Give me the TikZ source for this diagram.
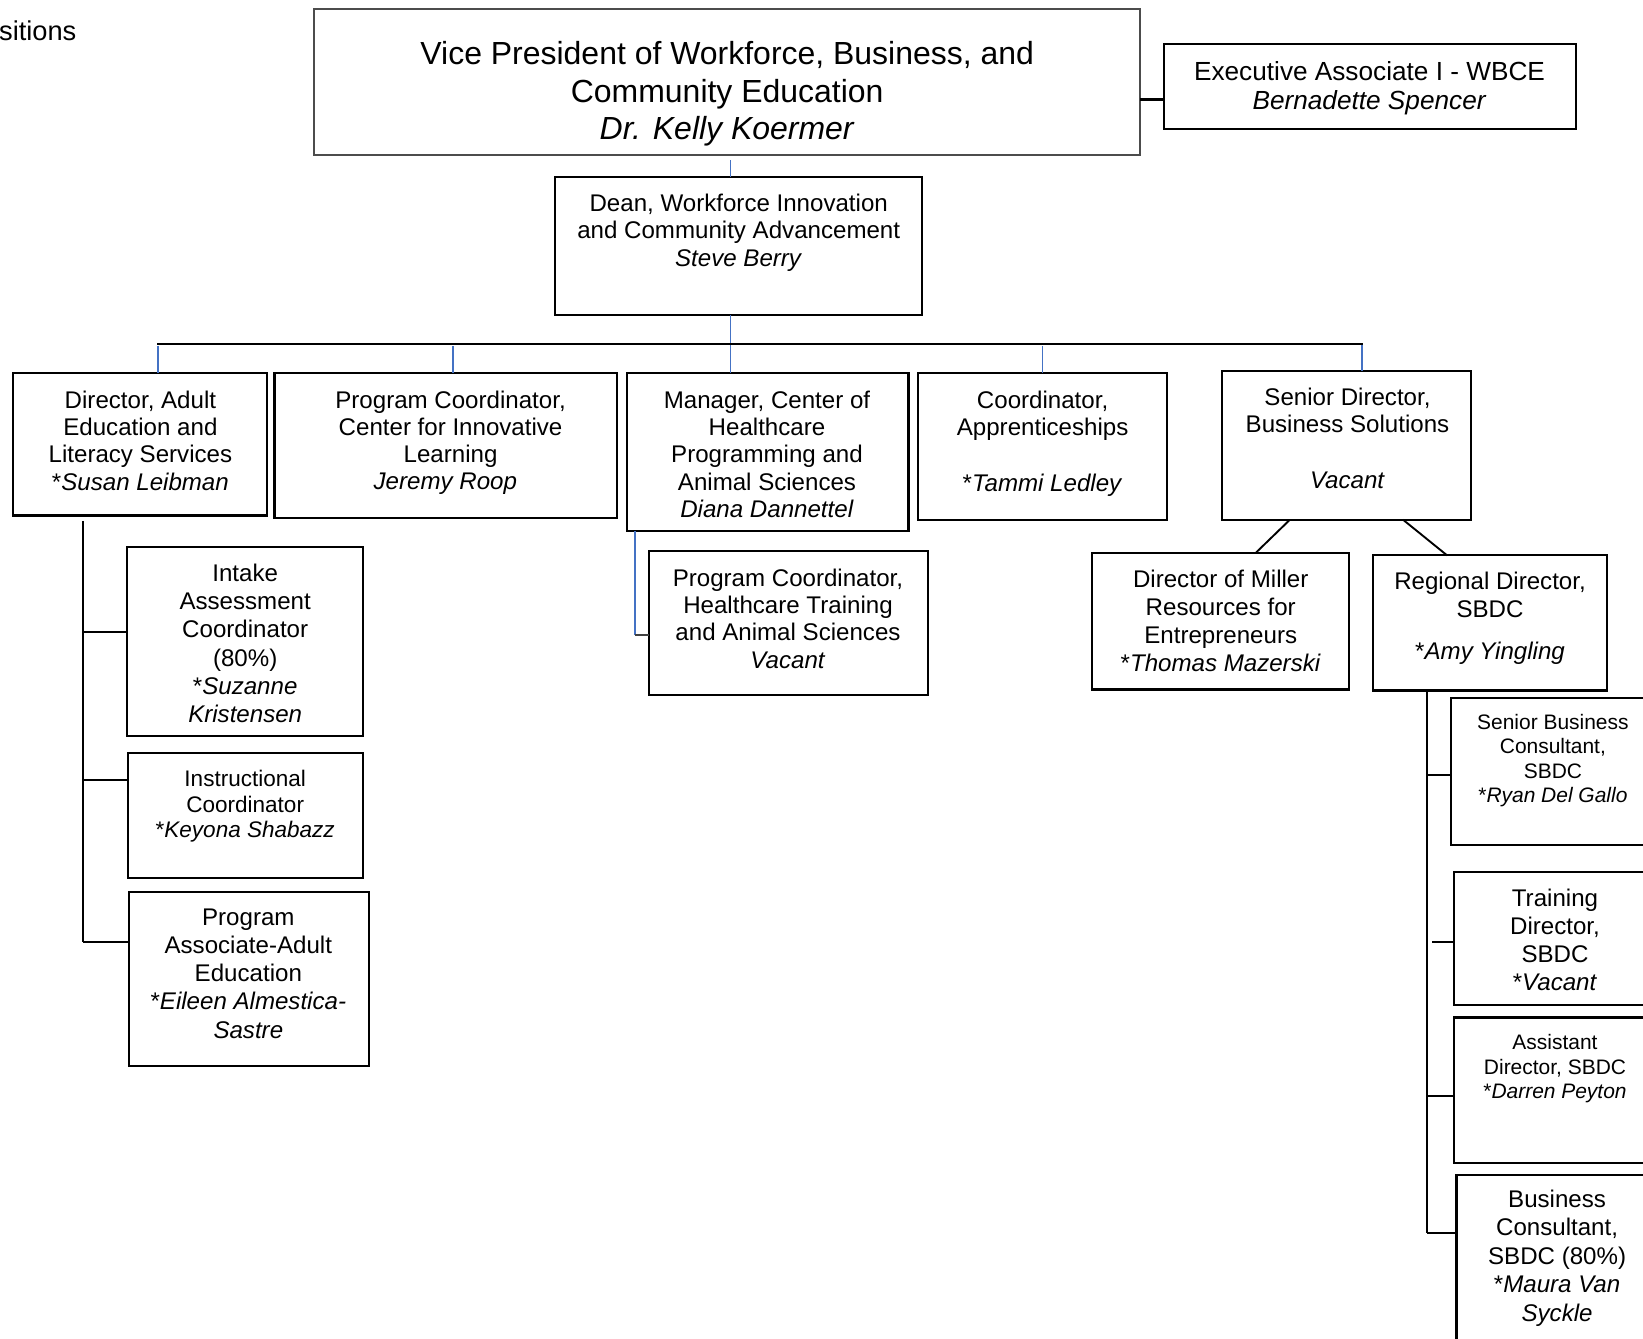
\documentclass[tikz,border=0pt]{standalone}
\usepackage{fontspec}
\setmainfont{Liberation Sans}
\definecolor{linkblue}{RGB}{68,114,196}
\newcommand\fs[2]{\fontsize{#1}{#2}\selectfont}
\newcommand\nm[1]{*\textit{#1}}
\newcommand\bx[6][]{\node[box,#1, minimum width={(#5)-(#3)}, minimum height={(#6)-(#4)}] (#2) at ({((#3)+(#5))/2},{((#4)+(#6))/2}) {};}
\begin{document}
\begin{tikzpicture}[x=1pt,y=-1pt,
  box/.style={draw=black, line width=2pt, inner sep=0pt, outer sep=0pt},
  txt/.style={align=center, inner sep=0pt, font=\fs{23}{26}},
  conn/.style={draw=black, line width=2pt},
  bconn/.style={draw=linkblue, line width=1.6pt}]
\clip (0,0) rectangle (1568,1277);
\fill[white] (0,0) rectangle (1568,1277);

% stray heading text
\node[txt, anchor=west, font=\fs{26}{30}] (pos) at (-1,29) {sitions};

% top level
\bx[draw=black!70]{vp}{300}{9}{1088}{148}
\node[txt, font=\fs{30.5}{35.5}] (vp-t) at (694,89.5) {Vice President of Workforce, Business, and\\Community Education\\\textit{Dr. Kelly Koermer}};
\bx{exec}{1111}{42}{1504}{123}
\node[txt, font=\fs{25}{28}] (exec-t) at (1307,84) {Executive Associate I - WBCE\\\textit{Bernadette Spencer}};
\bx{dean}{530}{169}{880}{301}
\node[txt] (dean-t) at (705,222) {Dean, Workforce Innovation\\and Community Advancement\\\textit{Steve Berry}};

% level 2
\bx{dir}{12}{356}{255}{492}
\node[txt] (dir-t) at (134,420.5) {Director, Adult\\Education and\\Literacy Services\\\nm{Susan Leibman}};
\bx{pcil}{262}{356}{589}{494}
\node[txt] (pcil-t) at (430,422.5) {Program Coordinator,\\Center for Innovative\\Learning\\\hspace*{-10pt}\textit{Jeremy Roop}};
\bx{mgr}{598}{356}{867}{507}
\node[txt] (mgr-t) at (732,433.5) {Manager, Center of\\Healthcare\\Programming and\\Animal Sciences\\\textit{Diana Dannettel}};
\bx{app}{876}{356}{1114}{496}
\node[txt] (app-t) at (995,423.5) {Coordinator,\\Apprenticeships\\[27pt]\nm{Tammi Ledley}};
\bx{sd}{1166}{354}{1404}{496}
\node[txt] (sd-t) at (1286,418.5) {Senior Director,\\Business Solutions\\[27pt]\textit{Vacant}};

% level 3 left
\bx{intake}{121}{522}{346}{702}
\node[txt, font=\fs{23}{26.8}] (intake-t) at (234,614) {Intake\\Assessment\\Coordinator\\(80\%)\\\nm{Suzanne}\\\textit{Kristensen}};
\bx{instr}{122}{719}{346}{838}
\node[txt, font=\fs{21.5}{24.5}] (instr-t) at (234,769.5) {Instructional\\Coordinator\\\nm{Keyona Shabazz}};
\bx{passoc}{123}{851}{352}{1017}
\node[txt, font=\fs{23}{27}] (passoc-t) at (237,929) {Program\\Associate-Adult\\Education\\\nm{Eileen Almestica-}\\\textit{Sastre}};

% healthcare
\bx{hcpc}{619}{526}{886}{663}
\node[txt] (hcpc-t) at (752,590.5) {Program Coordinator,\\Healthcare Training\\and Animal Sciences\\\textit{Vacant}};

% business solutions
\bx{miller}{1042}{528}{1287}{658}
\node[txt, font=\fs{23}{27}] (miller-t) at (1165,592.5) {Director of Miller\\Resources for\\Entrepreneurs\\\nm{Thomas Mazerski}};
\bx{reg}{1310}{530}{1534}{659}
\node[txt] (reg-t) at (1422,590) {Regional Director,\\SBDC\\[14pt]\nm{Amy Yingling}};

% right column
\bx{sbc}{1385}{666}{1600}{806}
\node[txt, font=\fs{20}{23.3}] (sbc-t) at (1482,726) {Senior Business\\Consultant,\\SBDC\\\nm{Ryan Del Gallo}};
\bx{td}{1388}{832}{1600}{959}
\node[txt, font=\fs{23}{26.7}] (td-t) at (1484,897) {Training\\Director,\\SBDC\\\nm{Vacant}};
\bx{ad}{1388}{971}{1600}{1110}
\node[txt, font=\fs{20}{23.5}] (ad-t) at (1484,1020) {Assistant\\Director, SBDC\\\nm{Darren Peyton}};
\bx{bc}{1390}{1121}{1600}{1300}
\node[txt, font=\fs{23}{27.2}] (bc-t) at (1486,1200.5) {Business\\Consultant,\\SBDC (80\%)\\\nm{Maura Van}\\\textit{Syckle}};

% connectors: top
\draw[conn] (vp.east |- 0,95) -- (exec.west |- 0,95);
\coordinate (j0) at (697,153);
\draw[bconn] (j0) -- (j0 |- dean.north);
\coordinate (bar) at (697,328);
\coordinate (barL) at (150,328);
\coordinate (barR) at (1301,328);
\draw[bconn] (dean.south -| bar) -- (bar |- mgr.north);
\draw[conn] (barL) -- (barR);
\coordinate (d1) at (151,330);
\coordinate (d2) at (432,330);
\coordinate (d4) at (995,330);
\coordinate (d5) at (1300,329);
\draw[bconn] (d1) -- (d1 |- dir.north);
\draw[bconn] (d2) -- (d2 |- pcil.north);
\draw[bconn] (d4) -- (d4 |- app.north);
\draw[bconn] (d5) -- (d5 |- sd.north);

% left column
\coordinate (lv) at (79,497);
\coordinate (lvb) at (79,899);
\draw[conn] (lv) -- (lvb);
\draw[conn] (79,603) -- (intake.west |- 0,603);
\draw[conn] (79,744) -- (instr.west |- 0,744);
\draw[conn] (lvb) -- (passoc.west |- lvb);

% healthcare
\coordinate (hv) at (606,606);
\draw[bconn] (mgr.south -| hv) -- (hv);
\draw[conn, draw=black!75, line width=1.5pt] (hv) -- (hcpc.west |- hv);

% business solutions
\draw[conn, line width=1.8pt] (sd.south -| 1231,0) -- (miller.north -| 1198,0);
\draw[conn, line width=1.8pt] (sd.south -| 1339,0) -- (reg.north -| 1381,0);

% right column
\coordinate (rv) at (1362,1177);
\draw[conn] (reg.south -| rv) -- (rv);
\draw[conn] (1362,740) -- (sbc.west |- 0,740);
\draw[conn] (1367,899) -- (td.west |- 0,899);
\draw[conn] (1362,1046) -- (ad.west |- 0,1046);
\draw[conn] (rv) -- (bc.west |- rv);
\end{tikzpicture}
\end{document}
